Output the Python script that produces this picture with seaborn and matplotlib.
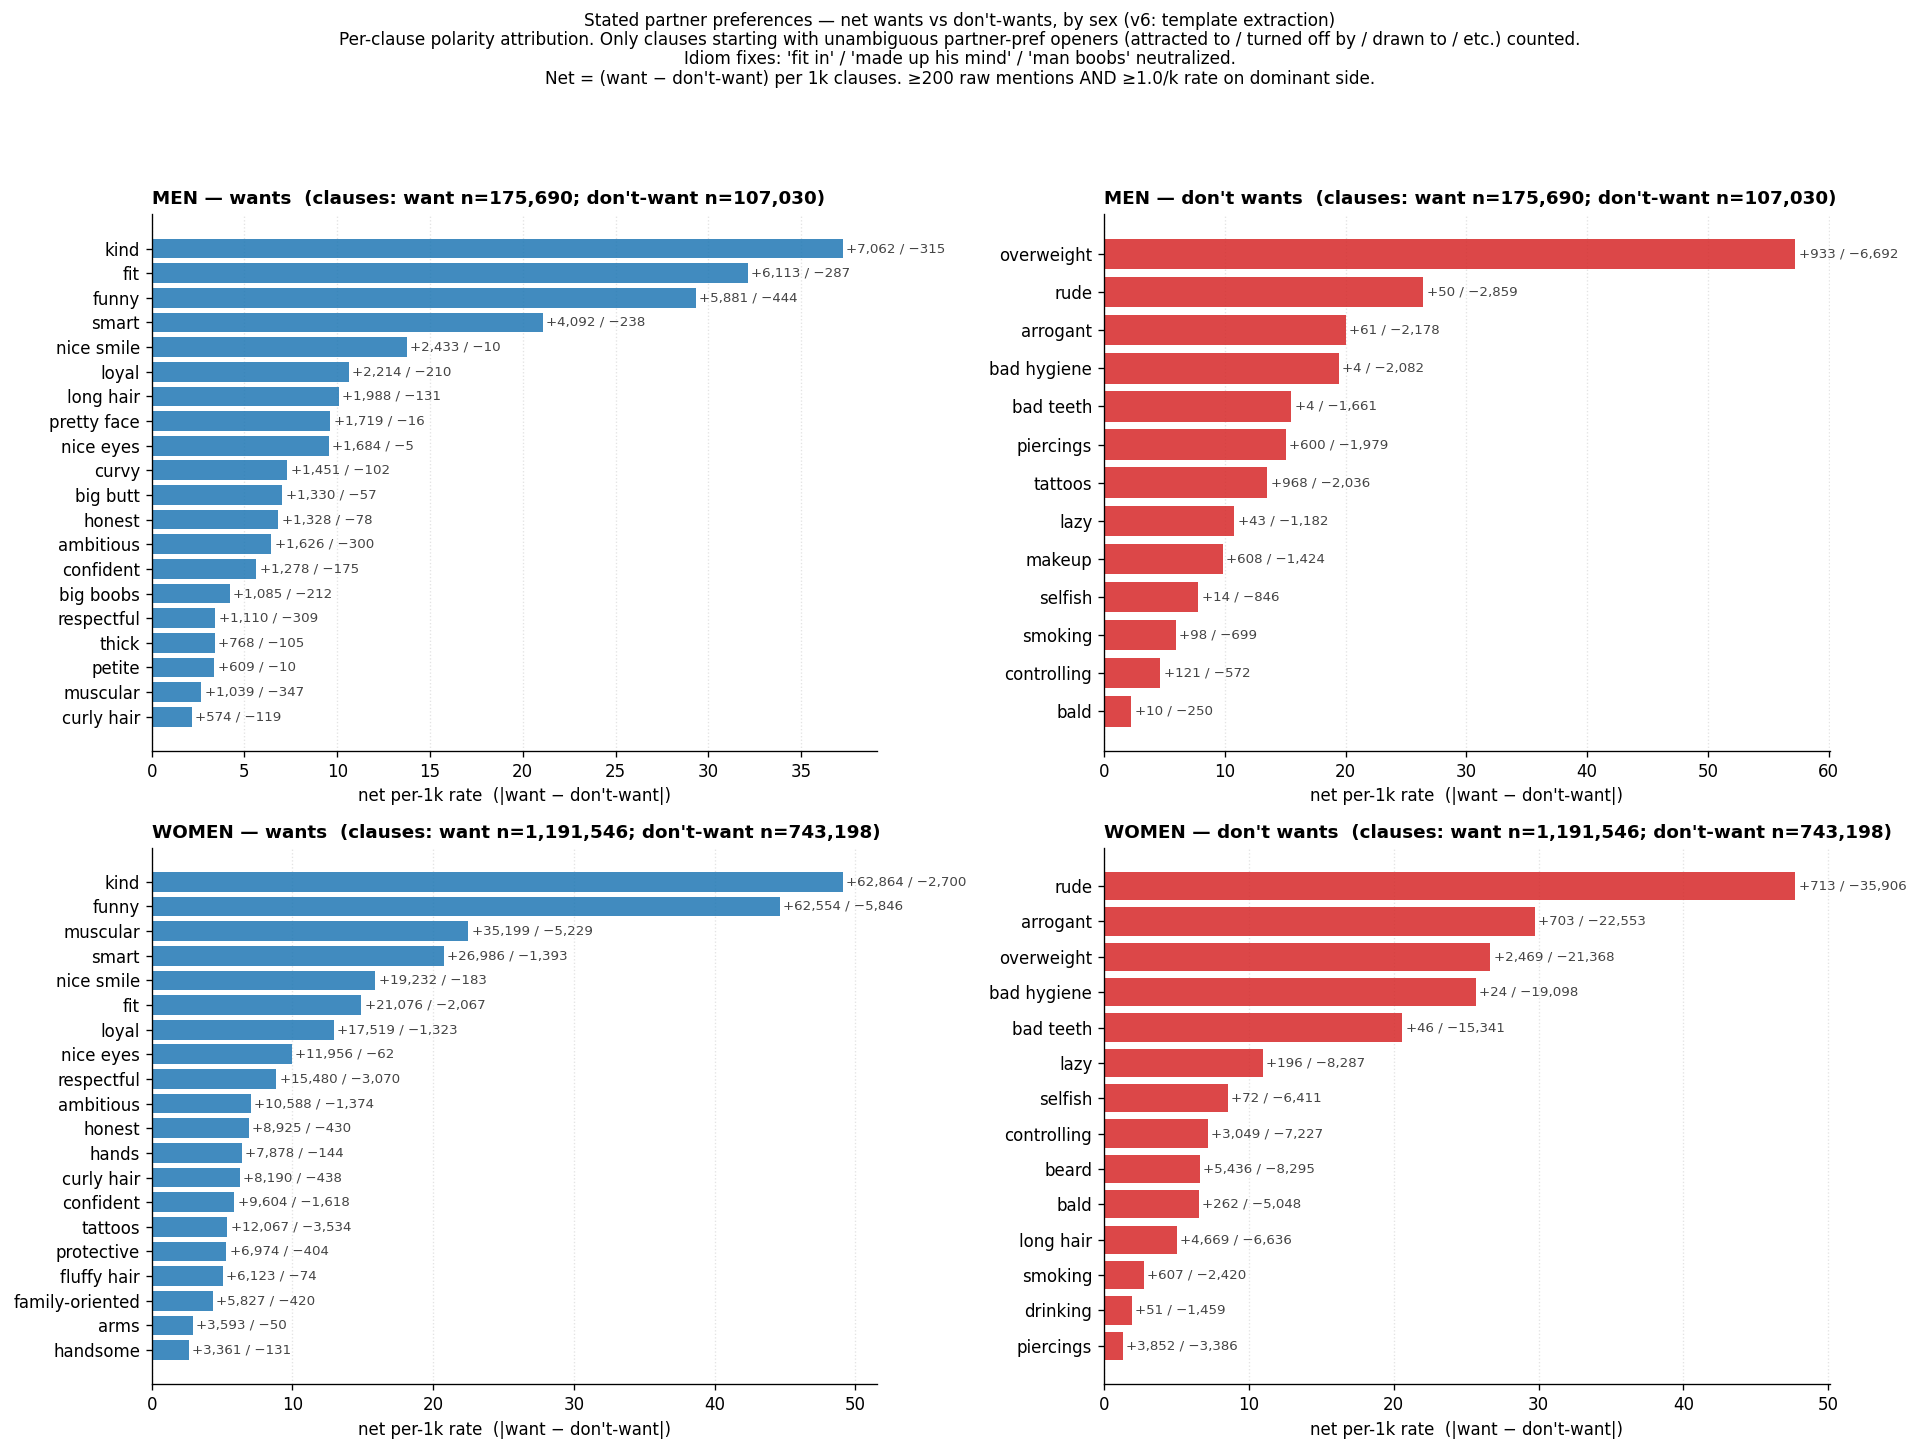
import numpy as np
import pandas as pd
import matplotlib
matplotlib.use("Agg")
import matplotlib.pyplot as plt
import seaborn as sns

# clause totals
men_n_want, men_n_dont = 175690, 107030
women_n_want, women_n_dont = 1191546, 743198

# MEN - wants
men_want_labels = ["kind", "fit", "funny", "smart", "nice smile", "loyal", "long hair",
                   "pretty face", "nice eyes", "curvy", "big butt", "honest", "ambitious",
                   "confident", "big boobs", "respectful", "thick", "petite", "muscular",
                   "curly hair"]
men_want_pos = [7062, 6113, 5881, 4092, 2433, 2214, 1988, 1719, 1684, 1451, 1330, 1328,
                1626, 1278, 1085, 1110, 768, 609, 1039, 574]
men_want_neg = [315, 287, 444, 238, 10, 210, 131, 16, 5, 102, 57, 78, 300, 175, 212, 309,
                105, 10, 347, 119]

# MEN - don't wants
men_dont_labels = ["overweight", "rude", "arrogant", "bad hygiene", "bad teeth", "piercings",
                   "tattoos", "lazy", "makeup", "selfish", "smoking", "controlling", "bald"]
men_dont_pos = [933, 50, 61, 4, 4, 600, 968, 43, 608, 14, 98, 121, 10]
men_dont_neg = [6692, 2859, 2178, 2082, 1661, 1979, 2036, 1182, 1424, 846, 699, 572, 250]

# WOMEN - wants
women_want_labels = ["kind", "funny", "muscular", "smart", "nice smile", "fit", "loyal",
                     "nice eyes", "respectful", "ambitious", "honest", "hands", "curly hair",
                     "confident", "tattoos", "protective", "fluffy hair", "family-oriented",
                     "arms", "handsome"]
women_want_pos = [62864, 62554, 35199, 26986, 19232, 21076, 17519, 11956, 15480, 10588, 8925,
                  7878, 8190, 9604, 12067, 6974, 6123, 5827, 3593, 3361]
women_want_neg = [2700, 5846, 5229, 1393, 183, 2067, 1323, 62, 3070, 1374, 430, 144, 438,
                  1618, 3534, 404, 74, 420, 50, 131]

# WOMEN - don't wants
women_dont_labels = ["rude", "arrogant", "overweight", "bad hygiene", "bad teeth", "lazy",
                     "selfish", "controlling", "beard", "bald", "long hair", "smoking",
                     "drinking", "piercings"]
women_dont_pos = [713, 703, 2469, 24, 46, 196, 72, 3049, 5436, 262, 4669, 607, 51, 3852]
women_dont_neg = [35906, 22553, 21368, 19098, 15341, 8287, 6411, 7227, 8295, 5048, 6636,
                  2420, 1459, 3386]

plt.rcParams['font.family'] = ['DejaVu Sans']

fig, axes = plt.subplots(2, 2, figsize=(16, 1448 / 120), dpi=120)
fig.subplots_adjust(left=0.079, right=0.953, top=0.852, bottom=0.044,
                    wspace=0.312, hspace=0.18)

panels = [
    (axes[0, 0], "MEN \u2014 wants", men_want_labels, men_want_pos, men_want_neg,
     men_n_want, men_n_dont, "tab:blue"),
    (axes[0, 1], "MEN \u2014 don't wants", men_dont_labels, men_dont_pos, men_dont_neg,
     men_n_want, men_n_dont, "tab:red"),
    (axes[1, 0], "WOMEN \u2014 wants", women_want_labels, women_want_pos, women_want_neg,
     women_n_want, women_n_dont, "tab:blue"),
    (axes[1, 1], "WOMEN \u2014 don't wants", women_dont_labels, women_dont_pos, women_dont_neg,
     women_n_want, women_n_dont, "tab:red"),
]

for ax, name, labels, pos, neg, n_w, n_d, color in panels:
    pos = np.array(pos)
    neg = np.array(neg)
    # net per-1k rate, shown as magnitude
    net = np.abs(pos / n_w * 1000 - neg / n_d * 1000)
    df = pd.DataFrame({"label": labels, "net": net})

    sns.barplot(data=df, x="net", y="label", orient="h", color=color, saturation=1,
                alpha=0.85, width=0.8, linewidth=0, ax=ax)

    n = len(labels)
    pad = 0.05 * (n - 1 + 0.8)
    ax.set_ylim(n - 1 + 0.4 + pad, -0.4 - pad)
    ax.set_xlim(0, net.max() * 1.05)

    for i, (v, p, q) in enumerate(zip(net, pos, neg)):
        ax.annotate(f"+{p:,} / \u2212{q:,}", (v, i), xytext=(2, 0),
                    textcoords="offset points", va="center", ha="left",
                    fontsize=8, color="#444444")

    ax.set_title(f"{name}  (clauses: want n={n_w:,}; don't-want n={n_d:,})",
                 loc="left", fontsize=11, fontweight="bold")
    ax.set_xlabel("net per-1k rate  (|want \u2212 don't-want|)", fontsize=10)
    ax.set_ylabel("")
    ax.tick_params(axis="both", labelsize=10)
    ax.grid(axis="x", linestyle=":", color="gray", alpha=0.22)
    ax.set_axisbelow(True)
    sns.despine(ax=ax)

fig.suptitle("Stated partner preferences \u2014 net wants vs don't-wants, by sex (v6: template extraction)\n"
             "Per-clause polarity attribution. Only clauses starting with unambiguous partner-pref openers "
             "(attracted to / turned off by / drawn to / etc.) counted.\n"
             "Idiom fixes: 'fit in' / 'made up his mind' / 'man boobs' neutralized.\n"
             "Net = (want \u2212 don't-want) per 1k clauses. \u2265200 raw mentions AND \u22651.0/k rate on dominant side.",
             fontsize=10.1, y=0.992, va="top", linespacing=1.1)

fig.savefig("out.png", dpi=120)
